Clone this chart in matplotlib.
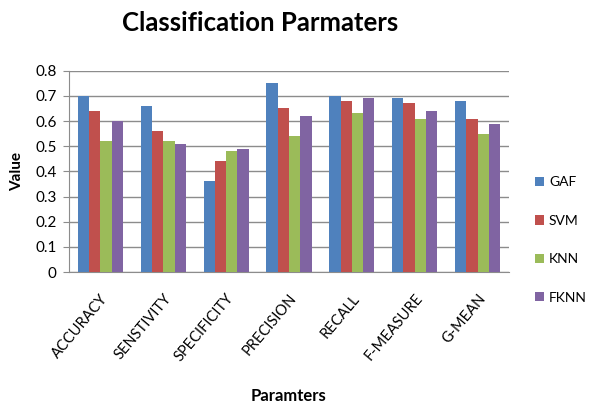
import numpy as np
import matplotlib
matplotlib.use("Agg")
import matplotlib.pyplot as plt

plt.rcParams['font.family'] = ['Lato', 'DejaVu Sans']

categories = ["ACCURACY", "SENSTIVITY", "SPECIFICITY", "PRECISION", "RECALL", "F-MEASURE", "G-MEAN"]
series_names = ["GAF", "SVM", "KNN", "FKNN"]
gaf = [0.70, 0.66, 0.36, 0.75, 0.70, 0.69, 0.68]
svm = [0.64, 0.56, 0.44, 0.65, 0.68, 0.67, 0.61]
knn = [0.52, 0.52, 0.48, 0.54, 0.63, 0.61, 0.55]
fknn = [0.60, 0.51, 0.49, 0.62, 0.69, 0.64, 0.59]
yticks = [0, 0.1, 0.2, 0.3, 0.4, 0.5, 0.6, 0.7, 0.8]
ytick_labels = ["0", "0.1", "0.2", "0.3", "0.4", "0.5", "0.6", "0.7", "0.8"]

colors = ["#4F81BD", "#C0504D", "#9BBB59", "#8064A2"]
values = [gaf, svm, knn, fknn]

W, H = 590, 408
fig = plt.figure(figsize=(W / 100, H / 100), dpi=100)
ax = fig.add_axes([69 / W, 1 - 272 / H, (509 - 69) / W, (272 - 70.7) / H])

x = np.arange(len(categories))
bw = 0.18
for i, (name, vals, c) in enumerate(zip(series_names, values, colors)):
    ax.bar(x + (i - 1.5) * bw, vals, width=bw, color=c, label=name, zorder=3)

ax.set_xlim(-0.5, len(categories) - 0.5)
ax.set_ylim(0, 0.8)
ax.set_yticks(yticks)
ax.set_yticklabels(ytick_labels, fontsize=11)
ax.yaxis.grid(True, color="#8c8c8c", linewidth=1, zorder=0)
ax.set_xticks(x)
ax.set_xticklabels(categories, rotation=50, ha="right", rotation_mode="anchor", fontsize=10.5)
ax.tick_params(axis="x", length=0, pad=14)
ax.tick_params(axis="y", length=4, color="#8c8c8c", pad=5)
for side in ["top", "right"]:
    ax.spines[side].set_visible(False)
ax.spines["left"].set_color("#8c8c8c")
ax.spines["bottom"].set_color("#8c8c8c")

ax.set_ylabel("Value", fontsize=11, fontweight="bold", labelpad=8)
fig.text(288 / W, 1 - 396 / H, "Paramters", ha="center", va="center", fontsize=12, fontweight="bold")
fig.text(260 / W, 1 - 23 / H, "Classification Parmaters", ha="center", va="center", fontsize=18.5, fontweight="bold")

handles, labels = ax.get_legend_handles_labels()
fig.legend(handles, labels, loc="center left", bbox_to_anchor=(535 / W, 1 - 240 / H),
           frameon=False, fontsize=10, handlelength=0.65, handleheight=0.65,
           handletextpad=0.35, labelspacing=1.9, borderpad=0, borderaxespad=0)

fig.savefig("out.png", dpi=100)
